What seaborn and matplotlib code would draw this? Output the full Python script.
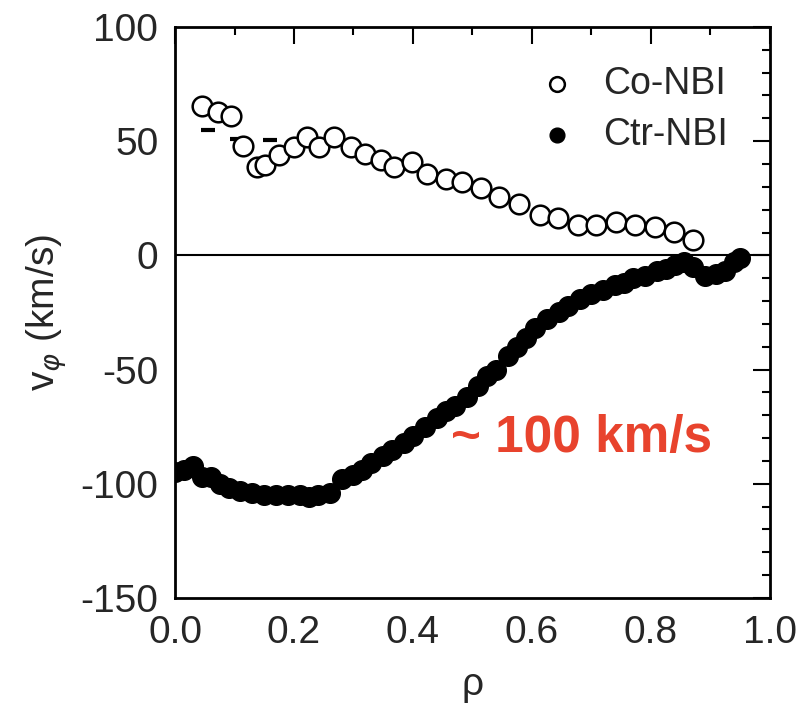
import numpy as np
import pandas as pd
import matplotlib
matplotlib.use("Agg")
import matplotlib.pyplot as plt
from matplotlib.ticker import MultipleLocator
import seaborn as sns

# Co-NBI (open circles)
co_rho = [0.045, 0.073, 0.094, 0.115, 0.138, 0.152, 0.174, 0.200, 0.222, 0.242, 0.267,
          0.295, 0.320, 0.346, 0.368, 0.399, 0.424, 0.455, 0.483, 0.514, 0.545, 0.579,
          0.613, 0.644, 0.677, 0.708, 0.742, 0.773, 0.807, 0.838, 0.871]
co_v = [65.5, 62.6, 61.0, 48.0, 38.7, 39.4, 43.8, 47.4, 51.7, 47.4, 51.7,
        47.4, 44.5, 41.6, 38.7, 40.9, 35.8, 33.6, 32.2, 29.3, 25.7, 22.7,
        17.7, 16.2, 13.3, 13.3, 14.8, 13.3, 12.6, 10.4, 6.8]

# small dash marks near the Co-NBI core points
dash_rho = [0.055, 0.105, 0.160]
dash_v = [55.0, 51.0, 50.5]

# Ctr-NBI (filled circles)
ctr_rho = [0.0, 0.015, 0.03, 0.045, 0.06, 0.075, 0.09, 0.11, 0.13, 0.15, 0.17, 0.19,
           0.21, 0.225, 0.24, 0.26, 0.28, 0.30, 0.315, 0.33, 0.35, 0.365, 0.385, 0.40,
           0.42, 0.44, 0.455, 0.47, 0.49, 0.51, 0.525, 0.54, 0.56, 0.575, 0.59, 0.605,
           0.625, 0.645, 0.66, 0.68, 0.70, 0.72, 0.74, 0.755, 0.77, 0.79, 0.81, 0.825,
           0.84, 0.855, 0.87, 0.89, 0.91, 0.925, 0.94, 0.95]
ctr_v = [-95, -94, -92, -97, -97, -100, -102, -103, -104, -105, -105, -105,
         -105, -106, -105, -104, -98, -96, -94, -91, -88, -85, -82, -79,
         -75, -71, -68, -66, -62, -57, -53, -50, -44, -40, -36, -32,
         -28, -25, -22, -19, -17, -15, -13, -12, -10, -9, -7, -6,
         -4, -3, -5, -9, -8, -7, -3, -1]

x_ticks = [0.0, 0.2, 0.4, 0.6, 0.8, 1.0]
x_ticklabels = ["0.0", "0.2", "0.4", "0.6", "0.8", "1.0"]
y_ticks = [-150, -100, -50, 0, 50, 100]
y_ticklabels = ["-150", "-100", "-50", "0", "50", "100"]

sns.set_style("white")
plt.rcParams['font.family'] = ['Liberation Sans', 'DejaVu Sans']

fig = plt.figure(figsize=(8.05, 7.21), dpi=100)
ax = fig.add_axes([0.2174, 0.1706, 0.7391, 0.792])

ax.axhline(0, color="black", lw=1.5, zorder=1)

sns.scatterplot(x=co_rho, y=co_v, ax=ax, marker="o", s=200, facecolor="white",
                edgecolor="black", linewidth=1.8, label="Co-NBI", zorder=3)
sns.scatterplot(x=ctr_rho, y=ctr_v, ax=ax, marker="o", s=200, color="black",
                edgecolor="black", linewidth=1.0, label="Ctr-NBI", zorder=3)
sns.scatterplot(x=dash_rho, y=dash_v, ax=ax, marker="_", s=90, color="black",
                linewidth=3, zorder=2, legend=False)

ax.set_xlim(0, 1.0)
ax.set_ylim(-150, 100)
ax.set_xticks(x_ticks)
ax.set_xticklabels(x_ticklabels)
ax.set_yticks(y_ticks)
ax.set_yticklabels(y_ticklabels)
ax.xaxis.set_minor_locator(MultipleLocator(0.1))
ax.yaxis.set_minor_locator(MultipleLocator(10))
ax.tick_params(which="both", direction="in", top=True, right=True, width=1.5,
               labelsize=28, color="black")
ax.tick_params(which="major", length=12, pad=12)
ax.tick_params(which="minor", length=6)
for sp in ax.spines.values():
    sp.set_color("black")
    sp.set_linewidth(2)

ax.set_xlabel("ρ", fontsize=28, labelpad=12)
ax.set_ylabel(r"v$_\varphi$ (km/s)", fontsize=28, labelpad=8)

ax.text(0.684, -80, "~ 100 km/s", color="#E8432D", fontsize=37, fontweight="bold",
        ha="center", va="center")

handles, labels = ax.get_legend_handles_labels()
leg = ax.legend(handles[:2], labels[:2], loc="upper right", bbox_to_anchor=(0.955, 0.958),
                borderaxespad=0, frameon=False, fontsize=27, handletextpad=0.5,
                handlelength=1.5, labelspacing=0.4, markerscale=0.75)

fig.savefig("out.png", dpi=100)
